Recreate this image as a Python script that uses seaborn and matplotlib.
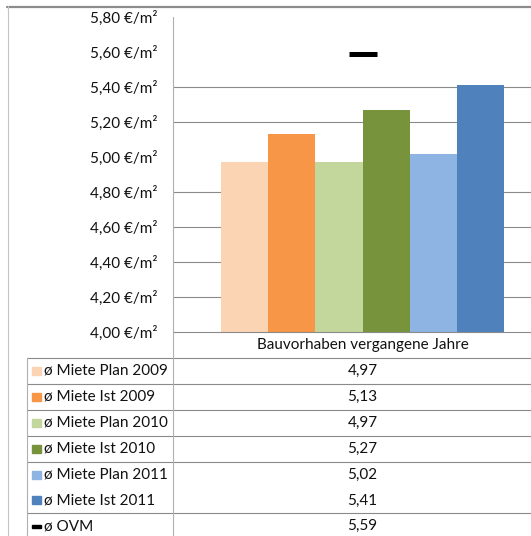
import matplotlib
matplotlib.use("Agg")
import matplotlib.pyplot as plt
from matplotlib.lines import Line2D
from matplotlib.patches import Rectangle
import numpy as np
import pandas as pd
import seaborn as sns

# --- data -------------------------------------------------------------
category = "Bauvorhaben vergangene Jahre"
series = ["ø Miete Plan 2009", "ø Miete Ist 2009", "ø Miete Plan 2010",
          "ø Miete Ist 2010", "ø Miete Plan 2011", "ø Miete Ist 2011"]
values = [4.97, 5.13, 4.97, 5.27, 5.02, 5.41]
colors = ["#FBD4B4", "#F79646", "#C3D69B", "#77933C", "#8EB4E3", "#4F81BD"]
ovm_label = "ø OVM"
ovm_value = 5.59
y_ticks = [4.00, 4.20, 4.40, 4.60, 4.80, 5.00, 5.20, 5.40, 5.60, 5.80]
grid_levels = [4.20, 4.40, 4.60, 4.80, 5.20, 5.40]

df = pd.DataFrame({"Gruppe": [category] * len(series),
                   "Reihe": series,
                   "Miete": values})

sns.set_theme(style="white")
plt.rcParams["font.family"] = ["Lato", "DejaVu Sans"]

W, H = 531, 536
fig = plt.figure(figsize=(W / 100, H / 100), dpi=100)


def fx(x):
    return x / W


def fy(y):
    return 1 - y / H


# plot area in pixel coordinates
ax_left, ax_right, ax_top, ax_bottom = 173, 552, 17, 332
ax = fig.add_axes([fx(ax_left), fy(ax_bottom),
                   (ax_right - ax_left) / W, (ax_bottom - ax_top) / H])

sns.barplot(data=df, x="Gruppe", y="Miete", hue="Reihe", hue_order=series,
            palette=colors, width=0.747, saturation=1, edgecolor="none",
            linewidth=0, legend=False, ax=ax, zorder=2)

for lvl in grid_levels:
    ax.axhline(lvl, color="#8a8a8a", lw=0.8, zorder=0)

ax.plot([0], [ovm_value], marker="_", ms=19.5, mew=3.6, color="black",
        linestyle="none", zorder=3)

ax.set_xlim(-0.5, 0.5)
ax.set_ylim(4.0, 5.8)
ax.set_yticks(y_ticks)
ax.set_yticklabels([f"{v:.2f}".replace(".", ",") + " €/m²" for v in y_ticks],
                   fontsize=11, color="#111111")
ax.tick_params(axis="y", length=0, pad=11)
ax.set_xticks([])
ax.set_xlabel("")
ax.set_ylabel("")
for s in ["top", "right", "bottom"]:
    ax.spines[s].set_visible(False)
ax.spines["left"].set_color("#b0b0b0")
ax.spines["left"].set_linewidth(0.8)
ax.patch.set_alpha(0)


def hline(y, x0, x1, color="#8a8a8a", lw=0.8):
    fig.add_artist(Line2D([fx(x0), fx(x1)], [fy(y), fy(y)],
                          color=color, lw=lw, transform=fig.transFigure))


def vline(x, y0, y1, color="#8a8a8a", lw=0.8):
    fig.add_artist(Line2D([fx(x), fx(x)], [fy(y0), fy(y1)],
                          color=color, lw=lw, transform=fig.transFigure))


# chart border
hline(6.5, 7, W, color="#8c8c8c", lw=1.6)
vline(7.5, 6, H, color="#c4c4c4", lw=0.8)

# data table below the plot
row_top = 358
row_h = 25.9
hline(ax_bottom, ax_left, W)
hline(row_top, 27, W)
for k in [1, 2, 3, 4, 6]:
    hline(row_top + k * row_h, 27, W)
vline(ax_left, ax_bottom, H, color="#b0b0b0")
vline(27, row_top, H, color="#b0b0b0")

center_x = (ax_left + ax_right) / 2
fig.text(fx(center_x), fy((ax_bottom + row_top) / 2), category,
         ha="center", va="center", fontsize=11, color="#111111")

rows = list(zip(series, values, colors)) + [(ovm_label, ovm_value, "black")]
for i, (name, val, col) in enumerate(rows):
    yc = row_top + (i + 0.5) * row_h
    fig.text(fx(44), fy(yc), name, ha="left", va="center",
             fontsize=11, color="#111111")
    fig.text(fx(center_x), fy(yc), f"{val:.2f}".replace(".", ","),
             ha="center", va="center", fontsize=11, color="#111111")
    if name == ovm_label:
        fig.add_artist(Rectangle((fx(32), fy(yc + 1.5)), 9 / W, 3 / H,
                                 color=col, transform=fig.transFigure))
    else:
        fig.add_artist(Rectangle((fx(32), fy(yc + 4)), 9 / W, 8 / H,
                                 color=col, transform=fig.transFigure))

fig.savefig("out.png", dpi=100)
